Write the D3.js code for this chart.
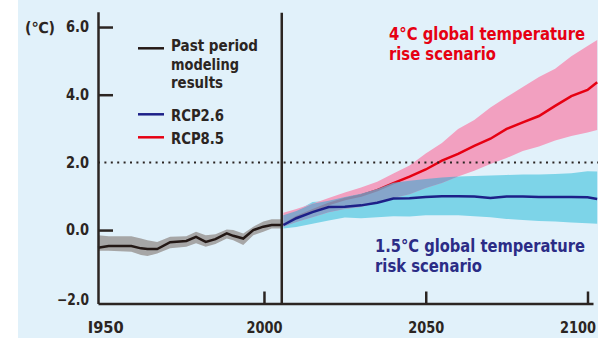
<!DOCTYPE html>
<html lang="en">
<head>
    <meta charset="UTF-8">
    <title>Temperature scenarios</title>
    <script src="https://d3js.org/d3.v7.min.js"></script>
    <style>
        body { margin: 0; background: #fff; }
        svg text { font-family: 'Liberation Sans Narrow', 'DejaVu Sans Condensed', 'Liberation Sans', sans-serif; }
    </style>
</head>
<body>
    <div id="chart"></div>
    <script>
        // past period (model results) 1950-2005
        const pastYears = [1948.7, 1952, 1959, 1962, 1964, 1967, 1971, 1976, 1979, 1982, 1985, 1988.5, 1990.5, 1993.6, 1996.7, 1999.8, 2002.4, 2005.5];
        const pastMean = [-0.52, -0.47, -0.47, -0.54, -0.56, -0.56, -0.36, -0.32, -0.20, -0.35, -0.27, -0.10, -0.17, -0.25, 0.0, 0.10, 0.15, 0.15];
        const pastHigh = [-0.15, -0.18, -0.18, -0.25, -0.30, -0.35, -0.20, -0.18, -0.05, -0.15, -0.12, 0.02, 0.0, -0.10, 0.10, 0.25, 0.32, 0.32];
        const pastLow = [-0.61, -0.61, -0.64, -0.74, -0.77, -0.69, -0.54, -0.49, -0.39, -0.49, -0.41, -0.25, -0.30, -0.44, -0.15, -0.05, 0.05, 0.05];

        // scenarios 2006-2100
        const futureYears = [2006, 2010, 2015, 2020, 2025, 2030, 2035, 2040, 2045, 2050, 2055, 2060, 2065, 2070, 2075, 2080, 2085, 2090, 2095, 2100, 2103];
        const rcp85 = [0.15, 0.38, 0.58, 0.77, 0.92, 1.02, 1.18, 1.39, 1.58, 1.79, 2.05, 2.25, 2.49, 2.70, 2.99, 3.18, 3.37, 3.67, 3.96, 4.14, 4.37];
        const rcp85High = [0.51, 0.62, 0.78, 0.95, 1.11, 1.26, 1.43, 1.67, 1.91, 2.26, 2.57, 2.99, 3.25, 3.62, 3.93, 4.23, 4.52, 4.77, 5.14, 5.44, 5.62];
        const rcp85Low = [0.10, 0.24, 0.38, 0.53, 0.62, 0.68, 0.81, 0.95, 1.06, 1.24, 1.39, 1.58, 1.75, 1.95, 2.13, 2.34, 2.47, 2.65, 2.78, 2.88, 2.96];
        const rcp26 = [0.15, 0.35, 0.53, 0.68, 0.69, 0.73, 0.81, 0.93, 0.94, 0.98, 1.00, 1.00, 0.99, 0.95, 0.99, 0.99, 0.98, 0.98, 0.98, 0.97, 0.92];
        const rcp26High = [0.44, 0.56, 0.83, 0.87, 0.98, 1.07, 1.21, 1.40, 1.46, 1.51, 1.55, 1.58, 1.60, 1.61, 1.63, 1.64, 1.64, 1.66, 1.68, 1.74, 1.73];
        const rcp26Low = [0.05, 0.09, 0.19, 0.28, 0.37, 0.35, 0.38, 0.41, 0.40, 0.44, 0.44, 0.44, 0.41, 0.38, 0.33, 0.30, 0.27, 0.25, 0.22, 0.20, 0.19];

        const yTicks = [6, 4, 2, 0, -2];
        const yTickLabels = ["6.0", "4.0", "2.0", "0.0", "\u22122.0"];
        const xTicks = [1950, 2000, 2050, 2100];
        const xTickLabels = ["I950", "2000", "2050", "2100"];
        const threshold = 2.0;
        const splitYear = 2005.5;

        const width = 598, height = 338;
        const ink = "#2b2522";

        const svg = d3.select("#chart").append("svg")
            .attr("width", width)
            .attr("height", height);

        svg.append("rect")
            .attr("x", 18).attr("y", 0)
            .attr("width", width - 18).attr("height", height)
            .attr("fill", "#e1f1fa");

        const x = d3.scaleLinear().domain([1948.7, 2101.7]).range([98, 593]);
        const y = d3.scaleLinear().domain([-2.17, 6.45]).range([303.5, 11.8]);

        const past = pastYears.map((yr, i) => ({yr, m: pastMean[i], lo: pastLow[i], hi: pastHigh[i]}));
        const future = futureYears.map((yr, i) => ({
            yr, r85: rcp85[i], r85lo: rcp85Low[i], r85hi: rcp85High[i],
            r26: rcp26[i], r26lo: rcp26Low[i], r26hi: rcp26High[i]
        }));

        const line = key => d3.line().x(d => x(d.yr)).y(d => y(d[key]));
        const band = (lo, hi) => d3.area().x(d => x(d.yr)).y0(d => y(d[lo])).y1(d => y(d[hi]));

        // past band + line
        svg.append("path").attr("d", band("lo", "hi")(past)).attr("fill", "#a6a6a6");
        svg.append("path").attr("d", line("m")(past))
            .attr("fill", "none").attr("stroke", "#231815").attr("stroke-width", 2.5);

        // scenario bands
        svg.append("path").attr("d", band("r26lo", "r26hi")(future)).attr("fill", "#7dd4e8");
        svg.append("path").attr("d", band("r85lo", "r85hi")(future)).attr("fill", "#f2a0c0");
        svg.append("path").attr("d", line("r85")(future))
            .attr("fill", "none").attr("stroke", "#e60012").attr("stroke-width", 2.5);

        // where both ranges overlap
        const overlap = d3.area()
            .x(d => x(d.yr))
            .y0(d => y(Math.max(d.r85lo, d.r26lo)))
            .y1(d => y(Math.max(Math.min(d.r85hi, d.r26hi), Math.max(d.r85lo, d.r26lo))));
        svg.append("path").attr("d", overlap(future))
            .attr("fill", "#6ea6cc").attr("opacity", 0.82);

        svg.append("path").attr("d", line("r26")(future))
            .attr("fill", "none").attr("stroke", "#1d2088").attr("stroke-width", 2.5);

        // 2 degree dotted line
        svg.append("line")
            .attr("x1", x.range()[0]).attr("x2", width)
            .attr("y1", y(threshold)).attr("y2", y(threshold))
            .attr("stroke", ink).attr("stroke-width", 2)
            .attr("stroke-dasharray", "2 4.4");

        // axes
        const yAxis = svg.append("g")
            .attr("transform", `translate(${x.range()[0]},0)`)
            .call(d3.axisLeft(y).tickValues(yTicks).tickSizeInner(-15).tickSizeOuter(0).tickPadding(9)
                .tickFormat((d, i) => yTickLabels[i]));
        yAxis.selectAll(".tick line").filter(d => d === 2 || d === -2).remove();

        const xAxis = svg.append("g")
            .attr("transform", `translate(0,${y.range()[0]})`)
            .call(d3.axisBottom(x).tickValues(xTicks).tickSizeInner(-12).tickSizeOuter(0).tickPadding(19)
                .tickFormat((d, i) => xTickLabels[i]));
        xAxis.selectAll(".tick line").filter(d => d === 1950).remove();

        [yAxis, xAxis].forEach(g => {
            g.select(".domain").attr("stroke", ink).attr("stroke-width", 2.5);
            g.selectAll(".tick line").attr("stroke", ink).attr("stroke-width", 2.5);
            g.selectAll("text")
                .attr("fill", ink)
                .style("font-size", "15px")
                .style("font-weight", "bold");
        });
        yAxis.selectAll("text").attr("textLength", (d, i) => i === 4 ? 32 : 23).attr("lengthAdjust", "spacingAndGlyphs");
        yAxis.selectAll(".tick text").filter(d => d === -2).attr("dy", "0.45em");
        xAxis.selectAll("text").attr("textLength", 36).attr("lengthAdjust", "spacingAndGlyphs");
        xAxis.selectAll(".tick text").filter(d => d === 1950).attr("dx", 3);
        xAxis.selectAll(".tick text").filter(d => d === 2100).attr("dx", -10);

        // split between past and scenarios
        svg.append("line")
            .attr("x1", x(splitYear)).attr("x2", x(splitYear))
            .attr("y1", y.range()[1] + 1).attr("y2", y.range()[0])
            .attr("stroke", ink).attr("stroke-width", 2.5);

        const addText = (str, tx, ty, len, color, weight) => svg.append("text")
            .attr("x", tx).attr("y", ty)
            .attr("fill", color)
            .attr("textLength", len).attr("lengthAdjust", "spacingAndGlyphs")
            .style("font-size", "15px")
            .style("font-weight", weight || "bold")
            .text(str);

        addText("(\u2103)", 25, 32.5, 30, ink);

        // legend
        const legend = [
            {color: "#231815", y: 48.3},
            {color: "#1d2088", y: 114.3},
            {color: "#e60012", y: 137.3}
        ];
        legend.forEach(l => svg.append("line")
            .attr("x1", 138).attr("x2", 164).attr("y1", l.y).attr("y2", l.y)
            .attr("stroke", l.color).attr("stroke-width", 2.5));
        addText("Past period", 171, 51, 87, ink);
        addText("modeling", 171, 69.5, 68, ink);
        addText("results", 171, 88, 52, ink);
        addText("RCP2.6", 171, 120.5, 53, ink);
        addText("RCP8.5", 171, 144, 53, ink);

        // scenario notes
        addText("4\u00b0C global temperature", 389, 40, 196, "#e60012").style("font-size", "17px");
        addText("rise scenario", 389, 60, 107, "#e60012").style("font-size", "17px");
        addText("1.5\u00b0C global temperature", 375, 251.5, 210, "#2b2c86").style("font-size", "17px");
        addText("risk scenario", 375, 271.5, 107, "#2b2c86").style("font-size", "17px");
    </script>
</body>
</html>
